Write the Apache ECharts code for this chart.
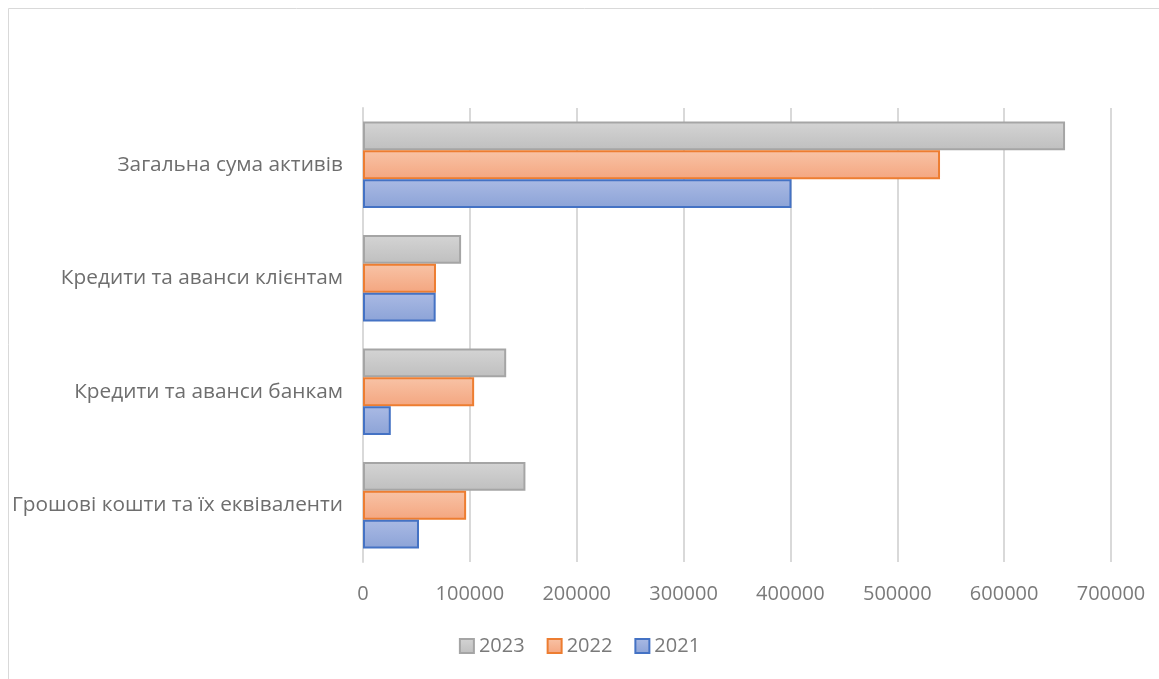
<!DOCTYPE html>
<html><head><meta charset="utf-8">
<script src="https://cdn.jsdelivr.net/npm/echarts@6/dist/echarts.min.js"></script>
<style>html,body{margin:0;padding:0;background:#fff}#c{width:1159px;height:679px}</style>
</head><body><div id="c"></div>
<script>
var categories = ['Грошові кошти та їх еквіваленти', 'Кредити та аванси банкам', 'Кредити та аванси клієнтам', 'Загальна сума активів'];
var years = ['2023', '2022', '2021'];
var v2021 = [52400, 26000, 68000, 401000];
var v2022 = [96500, 104000, 68300, 540000];
var v2023 = [152000, 134000, 91800, 657000];
var xTicks = [0, 100000, 200000, 300000, 400000, 500000, 600000, 700000];

var styles = {
  '2021': {top: '#aabae4', bot: '#8ca3d7', border: '#4472c4'},
  '2022': {top: '#f8c3a6', bot: '#f4a680', border: '#ed7d31'},
  '2023': {top: '#d4d4d4', bot: '#bfbfbf', border: '#a5a5a5'}
};
var values = {'2021': v2021, '2022': v2022, '2023': v2023};
var font = '"Open Sans", "Noto Sans", sans-serif';

var chart = echarts.init(document.getElementById('c'), null, {renderer: 'canvas'});
chart.setOption({
  animation: false,
  backgroundColor: '#fff',
  textStyle: {fontFamily: font},
  graphic: [{type: 'rect', shape: {x: 8.5, y: 8.5, width: 1300, height: 800}, style: {fill: 'none', stroke: '#d9d9d9', lineWidth: 1}, silent: true}],
  grid: {left: 363, right: 48, top: 108, bottom: 117, containLabel: false},
  legend: {
    data: ['2023', '2022', '2021'],
    bottom: 18, left: 'center', icon: 'rect',
    itemWidth: 14, itemHeight: 14, itemGap: 22,
    textStyle: {color: '#7a7a7a', fontSize: 20, fontFamily: font}
  },
  xAxis: {
    type: 'value', min: xTicks[0], max: xTicks[xTicks.length - 1], interval: 100000,
    axisLine: {show: false}, axisTick: {show: false},
    splitLine: {lineStyle: {color: '#d9d9d9', width: 2}},
    axisLabel: {color: '#7a7a7a', fontSize: 20, margin: 22, fontFamily: font,
      formatter: function (v) { return String(v); }}
  },
  yAxis: {
    type: 'category', data: categories,
    axisLine: {show: true, lineStyle: {color: '#d9d9d9', width: 2}},
    axisTick: {show: false},
    axisLabel: {color: '#6e6e6e', fontSize: 20.8, margin: 20, fontFamily: font}
  },
  series: years.map(function (y) {
    var s = styles[y];
    return {
      name: y, type: 'bar', data: values[y],
      barCategoryGap: '24%', barGap: '0%',
      itemStyle: {
        color: new echarts.graphic.LinearGradient(0, 0, 0, 1, [{offset: 0, color: s.top}, {offset: 1, color: s.bot}]),
        borderColor: s.border, borderWidth: 2
      }
    };
  })
});
</script></body></html>
